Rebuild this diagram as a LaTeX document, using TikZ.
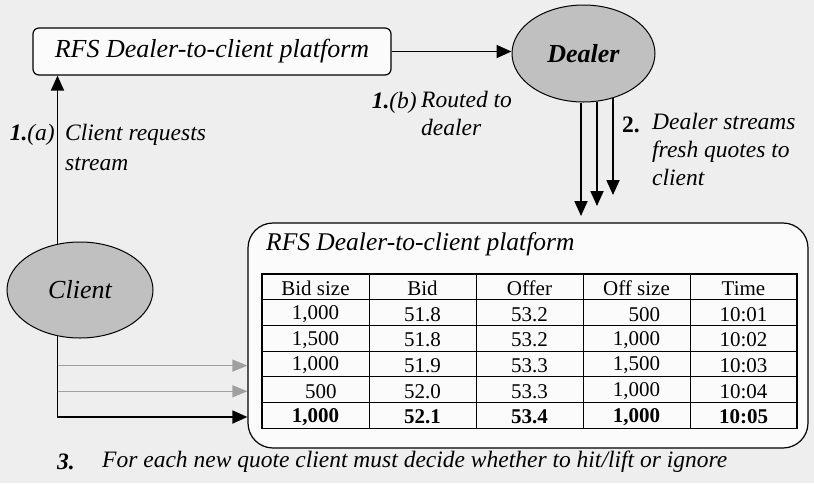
\documentclass[tikz,border=0pt]{standalone}
\usepackage{fontspec}
\setmainfont{Liberation Serif}
\usetikzlibrary{arrows.meta,shapes.geometric}

\definecolor{pagegray}{RGB}{238,238,238}
\definecolor{ovalgray}{RGB}{192,192,192}
\definecolor{boxwhite}{RGB}{251,251,251}
\definecolor{fadegray}{RGB}{160,160,160}

\newcommand{\bigfnt}{\fontsize{26}{30}\selectfont\itshape}
\newcommand{\labfnt}{\fontsize{23.5}{30}\selectfont\itshape}
\newcommand{\cellfnt}{\fontsize{21}{24}\selectfont}

\tikzset{
  platbox/.style={draw, line width=1.2pt, fill=boxwhite, inner sep=0pt},
  party/.style={draw, line width=1pt, ellipse, fill=ovalgray, inner sep=0pt},
  lbl/.style={font=\labfnt, inner sep=0pt, align=left},
  cell/.style={font=\cellfnt, inner sep=0pt},
  flowarr/.style={line width=1.8pt, -{Triangle[length=15pt,width=13pt]}},
  fadearr/.style={line width=1.3pt, draw=fadegray, -{Triangle[length=15pt,width=12pt,fill=fadegray]}},
}

\begin{document}
\begin{tikzpicture}[x=1pt,y=1pt,yscale=-1,xscale=1]
  \useasboundingbox[fill=pagegray] (0,0) rectangle (814,483);

  %Shape: Rounded Rect (top platform)
  \node[platbox, rounded corners=6pt, minimum width=358pt, minimum height=47pt, font=\bigfnt] (rfstop) at (212,51.5) {RFS Dealer-to-client platform};
  %Shape: Ellipse (dealer)
  \node[party, minimum width=143pt, minimum height=97pt, font=\bigfnt\bfseries] (dealer) at (583.5,53.5) {Dealer};
  %Shape: Ellipse (client)
  \node[party, minimum width=146pt, minimum height=96pt, font=\bigfnt] (client) at (80,290) {Client};
  %Shape: Rounded Rect (quote platform)
  \node[platbox, rounded corners=25pt, minimum width=560pt, minimum height=225pt] (platform) at (528,335.5) {};
  \node[anchor=west, inner sep=0pt, font=\fontsize{25.5}{30}\selectfont\itshape] (plattitle) at (266,244) {RFS Dealer-to-client platform};

  %Table rules
  \foreach \i in {0,...,6}
    \draw[line width=0.9pt] (262,{274+25.7*\i}) -- (797,{274+25.7*\i});
  \foreach \j in {0,...,5}
    \draw[line width=0.9pt] ({262+107*\j},274) -- ({262+107*\j},428.2);
  \draw[line width=1.3pt] (262,274) rectangle (797,428.2);

  %Table cells
  \foreach \r/\a/\b/\c/\d/\e in {
      0/Bid size/Bid/Offer/Off size/Time,
      1/{1,000}/51.8/53.2/{\hphantom{1,}500}/10:01,
      2/{1,500}/51.8/53.2/{1,000}/10:02,
      3/{1,000}/51.9/53.3/{1,500}/10:03,
      4/{\hphantom{1}500}/52.0/53.3/{1,000}/10:04,
      5/\textbf{1,000}/\textbf{52.1}/\textbf{53.4}/\textbf{1,000}/\textbf{10:05}}{
    \node[cell] (q\r-1) at (315.5,{288.5+25.7*\r}) {\a};
    \node[cell] (q\r-2) at (422.5,{288.5+25.7*\r}) {\b};
    \node[cell] (q\r-3) at (529.5,{288.5+25.7*\r}) {\c};
    \node[cell] (q\r-4) at (636.5,{288.5+25.7*\r}) {\d};
    \node[cell] (q\r-5) at (743.5,{288.5+25.7*\r}) {\e};
  }

  %Straight Lines (request and routing)
  \draw[flowarr] (client.116.8) -- (client.116.8 |- rfstop.south);
  \draw[flowarr] (rfstop.east) -- (rfstop.east -| dealer.west);

  %Straight Lines (streamed quotes)
  \coordinate (tip1) at (581,216);
  \coordinate (tip2) at (597,206);
  \coordinate (tip3) at (613,195);
  \draw[flowarr] (tip1 |- dealer.south) -- (tip1);
  \draw[flowarr] (tip2 |- dealer.-74.2) -- (tip2);
  \draw[flowarr] (tip3 |- dealer.-56.3) -- (tip3);

  %Straight Lines (client looks at quotes)
  \draw[fadearr] (client.-116.8 |- q3-1) -- (platform.west |- q3-1);
  \draw[fadearr] (client.-116.8 |- q4-1) -- (platform.west |- q4-1);
  \draw[flowarr] (client.-116.8) |- (platform.west |- q5-1);

  % Text Node
  \node[lbl, anchor=east] (stepa) at (55,135) {\textbf{1.}(a)};
  % Text Node
  \node[lbl, anchor=north west] (stepatext) at (65,124) {Client requests\\stream};
  % Text Node
  \node[lbl, anchor=east] (stepb) at (417,103) {\textbf{1.}(b)};
  % Text Node
  \node[lbl, anchor=north west, font=\fontsize{23.5}{28}\selectfont\itshape] (stepbtext) at (421,91) {Routed to\\dealer};
  % Text Node
  \node[lbl, anchor=west, font=\labfnt\upshape\bfseries] (steptwo) at (622,125) {2.};
  % Text Node
  \node[lbl, anchor=north west, font=\fontsize{23.5}{28}\selectfont\itshape] (steptwotext) at (652,113) {Dealer streams\\fresh quotes to\\client};
  % Text Node
  \node[lbl, anchor=west, font=\labfnt\bfseries] (stepthree) at (57,462) {3.};
  % Text Node
  \node[lbl, anchor=west] (stepthreetext) at (102,462) {For each new quote client must decide whether to hit/lift or ignore};

\end{tikzpicture}
\end{document}
